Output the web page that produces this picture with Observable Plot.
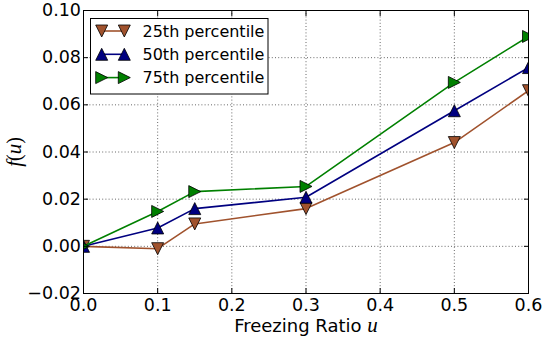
<!DOCTYPE html>
<html><head><meta charset="utf-8">
<script src="https://cdn.jsdelivr.net/npm/d3@7"></script>
<script src="https://cdn.jsdelivr.net/npm/@observablehq/plot@0.6"></script>
<style>
body{margin:0;background:#fff;}
#wrap{position:relative;width:543px;height:341px;font-family:"DejaVu Sans",sans-serif;color:#000;}
#wrap svg{display:block;}
.ov{position:absolute;white-space:nowrap;}
.m{font-family:"Liberation Serif","DejaVu Serif",serif;font-style:italic;font-size:21px;line-height:18px;}
.mu{font-family:"Liberation Serif","DejaVu Serif",serif;font-style:normal;font-size:20px;line-height:18px;}
</style></head><body><div id="wrap"></div>
<script>
// ---- data ----
const ratios = [0, 0.1, 0.15, 0.3, 0.5, 0.6];
const p25 = [0, -0.001, 0.0095, 0.016, 0.044, 0.066];
const p50 = [0, 0.0078, 0.016, 0.0208, 0.0575, 0.0758];
const p75 = [0, 0.0148, 0.0232, 0.0254, 0.0695, 0.089];
const seriesNames = ["25th percentile", "50th percentile", "75th percentile"];
const seriesColors = ["#a0522d", "#000080", "#008000"];
const xTicks = [0, 0.1, 0.2, 0.3, 0.4, 0.5, 0.6];
const yTicks = [-0.02, 0, 0.02, 0.04, 0.06, 0.08, 0.10];

// ---- triangle markers (matplotlib style, bbox-centred) ----
function tri(dir) {
  return {draw(ctx, size) {
    const a = Math.sqrt(size / Math.PI);
    if (dir === "up") { ctx.moveTo(0, -a); ctx.lineTo(-a, a); ctx.lineTo(a, a); }
    else if (dir === "down") { ctx.moveTo(0, a); ctx.lineTo(-a, -a); ctx.lineTo(a, -a); }
    else { ctx.moveTo(a, 0); ctx.lineTo(-a, -a); ctx.lineTo(-a, a); }
    ctx.closePath();
  }};
}
const dirs = ["down", "up", "right"];
const allVals = [p25, p50, p75];
const series = seriesNames.map((name, i) => ratios.map((x, j) => ({series: name, x, y: allVals[i][j]})));

const fmtY = d => d.toFixed(2).replace("-", "\u2212");
const gridStyle = {stroke: "#000", strokeOpacity: 0.75, strokeWidth: 0.8, strokeDasharray: "1,2.2"};

const marks = [
  Plot.gridX(xTicks, gridStyle),
  Plot.gridY(yTicks, gridStyle)
];
series.forEach((d, i) => {
  marks.push(Plot.line(d, {x: "x", y: "y", stroke: seriesColors[i], strokeWidth: 1.6, clip: true}));
  marks.push(Plot.dot(d, {x: "x", y: "y", symbol: tri(dirs[i]), r: 6, fill: seriesColors[i], stroke: "#000", strokeWidth: 0.8, clip: true}));
});
marks.push(
  Plot.frame({stroke: "#000", strokeWidth: 1}),
  // inward ticks on all four sides
  Plot.axisX(xTicks, {anchor: "bottom", tickSize: 5, dy: -5, tickFormat: () => "", label: null}),
  Plot.axisX(xTicks, {anchor: "top", tickSize: 5, dy: 5, tickFormat: () => "", label: null}),
  Plot.axisY(yTicks, {anchor: "left", tickSize: 5, dx: 5, tickFormat: () => "", label: null}),
  Plot.axisY(yTicks, {anchor: "right", tickSize: 5, dx: -5, tickFormat: () => "", label: null}),
  // tick labels
  Plot.axisX(xTicks, {anchor: "bottom", tickSize: 0, tickPadding: 5, fontSize: 17.5, tickFormat: d => d.toFixed(1), label: null}),
  Plot.axisY(yTicks, {anchor: "left", tickSize: 0, tickPadding: 2.5, fontSize: 17.5, tickFormat: fmtY, label: null})
);

const chart = Plot.plot({
  width: 543, height: 341,
  marginLeft: 83, marginRight: 15, marginTop: 10, marginBottom: 48,
  x: {domain: [0, 0.6]},
  y: {domain: [-0.02, 0.10]},
  style: {fontFamily: "DejaVu Sans", fontSize: "17.5px", color: "#000", background: "#fff", overflow: "visible"},
  marks
});
const wrap = document.getElementById("wrap");
wrap.appendChild(chart);

// ---- axis labels ----
const xl = document.createElement("div");
xl.className = "ov";
xl.style.cssText = "left:0;width:612px;top:316px;text-align:center;font-size:18px;line-height:18px;";
xl.innerHTML = 'Freezing Ratio <span class="m">u</span>';
wrap.appendChild(xl);

const yl = document.createElement("div");
yl.className = "ov";
yl.style.cssText = "left:14.5px;top:152px;transform:translate(-50%,-50%) rotate(-90deg);";
yl.innerHTML = '<span class="m">f</span><span class="mu">(</span><span class="m">u</span><span class="mu">)</span>';
wrap.appendChild(yl);

// ---- legend ----
const lg = d3.select(wrap).append("svg")
  .attr("width", 543).attr("height", 341)
  .style("position", "absolute").style("left", 0).style("top", 0).style("pointer-events", "none");
lg.append("rect").attr("x", 90.5).attr("y", 18.5).attr("width", 177.5).attr("height", 75.5)
  .attr("fill", "#fff").attr("stroke", "#000").attr("stroke-width", 1);
const rowY = [31, 54.3, 77.6];
seriesNames.forEach((name, i) => {
  const g = lg.append("g").attr("transform", `translate(0,${rowY[i]})`);
  g.append("line").attr("x1", 101.7).attr("x2", 124.3).attr("y1", 0).attr("y2", 0)
    .attr("stroke", seriesColors[i]).attr("stroke-width", 1.6);
  const sym = d3.symbol(tri(dirs[i]), Math.PI * 36);
  [101.7, 124.3].forEach(cx => {
    g.append("path").attr("d", sym()).attr("transform", `translate(${cx},0)`)
      .attr("fill", seriesColors[i]).attr("stroke", "#000").attr("stroke-width", 0.8);
  });
  g.append("text").attr("x", 142.5).attr("y", 0).attr("dy", "0.35em")
    .attr("font-family", "DejaVu Sans").attr("font-size", "16px").attr("fill", "#000").text(name);
});
</script>
</body></html>
